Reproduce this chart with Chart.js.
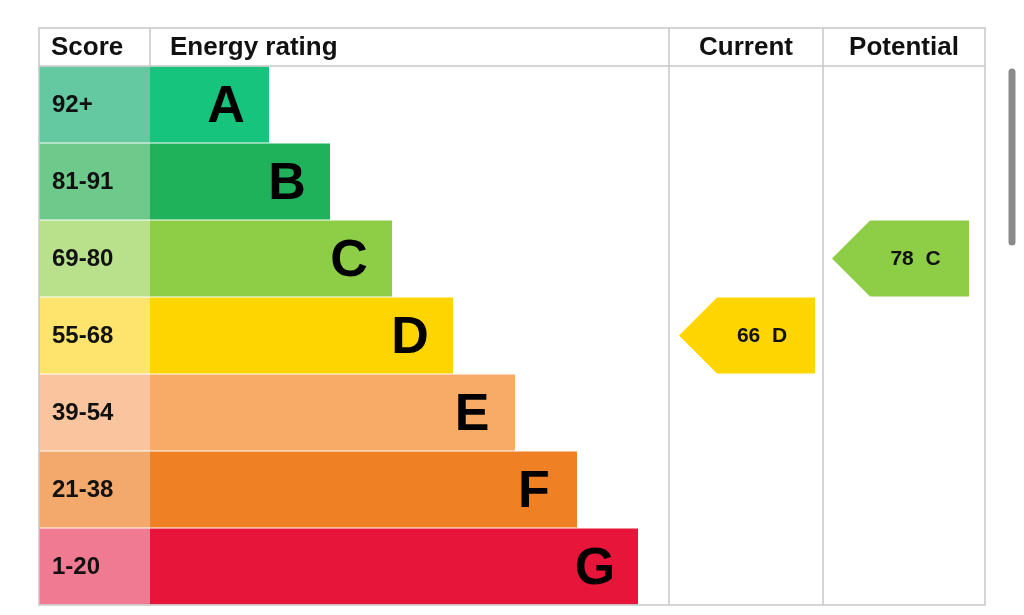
<!DOCTYPE html>
<html><head><meta charset="utf-8">
<script src="https://cdn.jsdelivr.net/npm/chart.js@4"></script>
<style>html,body{margin:0;background:#fff}#w{width:1024px;height:615px}</style>
</head><body><div id="w"><canvas id="c"></canvas></div>
<script>
const ratings = ['A','B','C','D','E','F','G'];
const scoreBands = ['92+','81-91','69-80','55-68','39-54','21-38','1-20'];
const barLengths = [119,180,242,303,365,427,488];
const barColors = ['#17c47e','#1fb25a','#8dce46','#ffd500','#f8ab66','#ef8024','#e8153b'];
const bandColors = ['#64c8a1','#6dca8b','#b9e08b','#fde46c','#f9c49e','#f3a86c','#ef7a92'];
const headers = ['Score','Energy rating','Current','Potential'];
const currentScore = 66, currentRating = 'D';
const potentialScore = 78, potentialRating = 'C';

const FONT = 'Liberation Sans, Arial, sans-serif';
const epc = {
  id:'epc',
  afterDatasetsDraw(ch){
    const c = ch.ctx, a = ch.chartArea, y = ch.scales.y;
    const L=39, T=28, colCur=669, colPot=823, R=a.right;
    const rowH = (a.bottom-a.top)/ratings.length;
    c.save();
    ratings.forEach((r,i)=>{
      const yc = y.getPixelForValue(i);
      c.fillStyle = bandColors[i];
      c.fillRect(L, yc-rowH/2+0.5, a.left-L, rowH-1);
      c.fillStyle='#111'; c.font='bold 24px '+FONT; c.textAlign='left'; c.textBaseline='middle';
      c.fillText(scoreBands[i], L+13, yc+1);
      const xe = ch.scales.x.getPixelForValue(barLengths[i]);
      c.font='bold 52px '+FONT; c.textAlign='center'; c.fillStyle='#000';
      c.fillText(r, xe-43, yc+3);
    });
    c.fillStyle='#111'; c.font='bold 26px '+FONT; c.textBaseline='middle';
    c.textAlign='left'; c.fillText(headers[0], L+12, T+20);
    c.fillText(headers[1], a.left+20, T+20);
    c.textAlign='center'; c.fillText(headers[2], (colCur+colPot)/2, T+20);
    c.fillText(headers[3], (colPot+R)/2, T+20);
    c.strokeStyle='#c8c8c8'; c.lineWidth=1.5;
    c.strokeRect(L, T, R-L, a.bottom-T);
    c.beginPath();
    c.moveTo(L, a.top); c.lineTo(R, a.top);
    c.moveTo(a.left, T); c.lineTo(a.left, a.top);
    [colCur, colPot].forEach(x=>{c.moveTo(x,T); c.lineTo(x,a.bottom);});
    c.stroke();
    const arrow=(score, rating, x0, x1)=>{
      const i = ratings.indexOf(rating), yc = y.getPixelForValue(i);
      const h = rowH/2 - 0.5, tip = 38;
      c.fillStyle = barColors[i];
      c.beginPath(); c.moveTo(x0, yc); c.lineTo(x0+tip, yc-h); c.lineTo(x1, yc-h);
      c.lineTo(x1, yc+h); c.lineTo(x0+tip, yc+h); c.closePath(); c.fill();
      c.fillStyle='#111'; c.font='bold 21px '+FONT; c.textAlign='center';
      c.fillText(score+'  '+rating, x0+tip+(x1-x0-tip)/2 - 4, yc+1);
    };
    arrow(currentScore, currentRating, 679, 815);
    arrow(potentialScore, potentialRating, 832, 969);
    c.strokeStyle='#8a8a8a'; c.lineWidth=7; c.lineCap='round';
    c.beginPath(); c.moveTo(1012, 72); c.lineTo(1012, 242); c.stroke();
    c.restore();
  }
};

new Chart(document.getElementById('c'), {
  type:'bar',
  data:{labels:ratings, datasets:[{data:barLengths, backgroundColor:barColors, barPercentage:1, categoryPercentage:0.985, borderWidth:0}]},
  options:{
    indexAxis:'y', responsive:true, maintainAspectRatio:false, animation:false,
    layout:{padding:{left:150, top:66, right:39, bottom:10}},
    plugins:{legend:{display:false}, tooltip:{enabled:false}},
    scales:{
      x:{display:false, min:0, max:835},
      y:{display:false}
    }
  },
  plugins:[epc]
});
</script></body></html>
